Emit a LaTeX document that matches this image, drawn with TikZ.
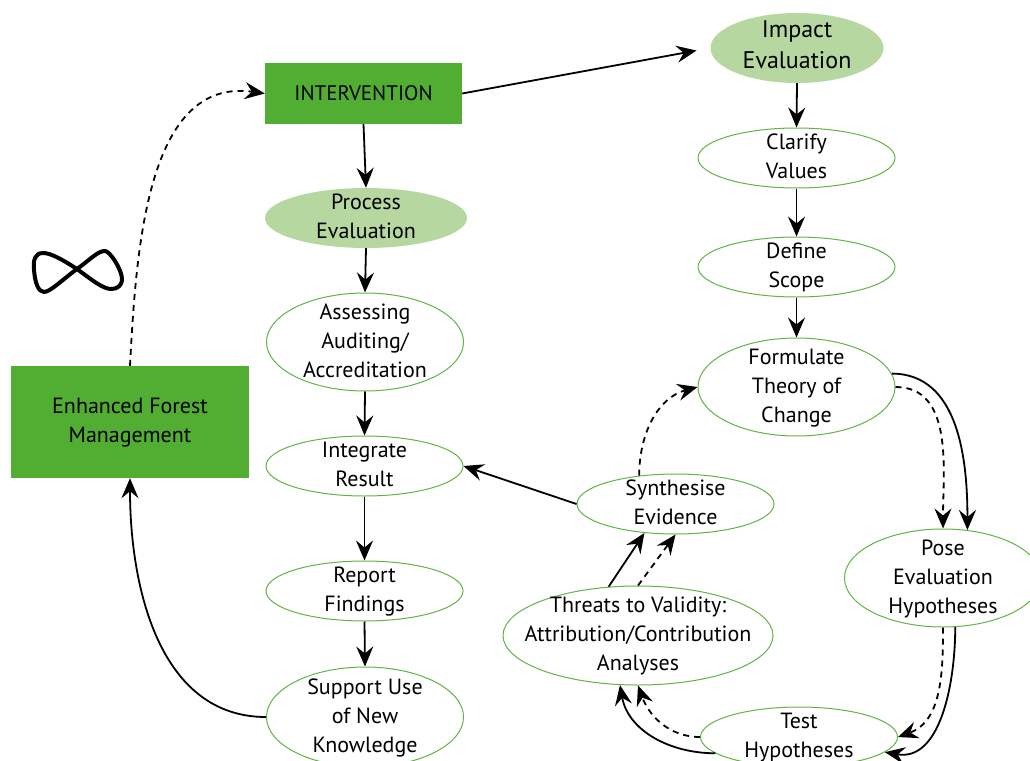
\documentclass[tikz,border=0pt]{standalone}
\usepackage{fontspec}
\setmainfont{PT Sans}
\usetikzlibrary{shapes.geometric,arrows.meta}
\newcommand{\lbl}[1]{\makebox[0pt]{\smash{\lower5.5pt\hbox{\begin{tabular}[c]{@{}c@{}}#1\end{tabular}}}}}

\begin{document}
\begin{tikzpicture}[x=1pt, y=-1pt,
    every node/.style={font=\fontsize{22}{29}\selectfont, text=black},
    stepnode/.style={ellipse, draw=stepgreen, line width=1pt, inner sep=0pt, minimum width=197pt, minimum height=60pt},
    evalnode/.style={ellipse, fill=palegreen, inner sep=0pt},
    actnode/.style={rectangle, fill=boxgreen, inner sep=0pt},
    link/.style={-{Stealth[length=20pt, width=17pt, inset=7pt]}, line width=1.8pt},
    dashlink/.style={link, dash pattern=on 6pt off 5pt}]
    \definecolor{stepgreen}{HTML}{62B246}
    \definecolor{palegreen}{HTML}{B7D7A0}
    \definecolor{boxgreen}{HTML}{52AE32}
    \useasboundingbox (0,0) rectangle (1030,760);

    \node [actnode, minimum width=197pt, minimum height=61pt] (intervention) at (363.5,93.5) {\fontsize{21}{29}\selectfont INTERVENTION};
    \node [actnode, minimum width=238pt, minimum height=112pt] (forest) at (130,422) {\lbl{Enhanced Forest\\Management}};

    \node [evalnode, minimum width=173pt, minimum height=70pt] (impact) at (797,48) {\fontsize{24}{31}\selectfont\lbl{Impact\\Evaluation}};
    \node [evalnode, minimum width=202pt, minimum height=60pt] (process) at (366,218) {\lbl{Process\\Evaluation}};

    \node [stepnode, minimum height=98pt] (assessing) at (365,342) {\lbl{Assessing\\Auditing/\\Accreditation}};
    \node [stepnode] (integrate) at (364.5,466) {\lbl{Integrate\\Result}};
    \node [stepnode] (report) at (364.5,591) {\lbl{Report\\Findings}};
    \node [stepnode, minimum height=100pt] (support) at (365,717) {\lbl{Support Use\\of New\\Knowledge}};

    \node [stepnode] (clarify) at (796.5,158) {\lbl{Clarify\\Values}};
    \node [stepnode] (scope) at (796.5,267) {\lbl{Define\\Scope}};
    \node [stepnode, minimum height=98pt] (theory) at (796.5,387) {\lbl{Formulate\\Theory of\\Change}};
    \node [stepnode, minimum height=98pt] (pose) at (943,578) {\lbl{Pose\\Evaluation\\Hypotheses}};
    \node [stepnode] (test) at (799,737) {\lbl{Test\\Hypotheses}};
    \node [stepnode, minimum width=270pt, minimum height=99pt] (threats) at (638,635.5) {\lbl{Threats to Validity:\\Attribution/Contribution\\Analyses}};
    \node [stepnode] (synthesise) at (675.5,504) {\lbl{Synthesise\\Evidence}};

    \draw [link, shorten >=14pt] (intervention.east) -- (impact.west);
    \draw [link] (impact.south) -- (clarify.north);
    \draw [link] (clarify.south) -- (scope.north);
    \draw [link] (scope.south) -- (theory.north);
    \draw [link] (intervention.south) -- (process.north);
    \draw [link] (process.south) -- (assessing.north);
    \draw [link] (assessing.south) -- (integrate.north);
    \draw [link] (integrate.south) -- (report.north);
    \draw [link] (report.south) -- (support.north);
    \draw [link] (support.west) to [out=180, in=-90] (forest.south);
    \draw [dashlink] (forest.north) to [out=87, in=172] (intervention.west);
    \draw [link] (synthesise.west) -- (integrate.east);
    \draw [dashlink] (synthesise.142) to [out=90, in=195] (theory.west);
    \draw [link] (theory.8) to [out=0, in=90] (pose.63);
    \draw [dashlink] (theory.east) to [out=0, in=90] (pose.north);
    \draw [link] (pose.-76) to [out=-90, in=-10] (test.-10);
    \draw [dashlink] (pose.south) to [out=-90, in=20] (test.east);
    \draw [link] (test.191) to [out=180, in=-80] (threats.250);
    \draw [dashlink] (test.west) to [out=180, in=-70] (threats.south);
    \draw [link] (threats.121) -- (synthesise.223);
    \draw [dashlink] (threats.north) -- (synthesise.south);

    \draw [line width=4pt, line join=round] (77,269) .. controls (60,258) and (50,253) .. (43,253)
      .. controls (35,253) and (33,260) .. (34,270) .. controls (35,282) and (38,292) .. (44,292)
      .. controls (50,292) and (62,280) .. (77,269) .. controls (92,258) and (98,251) .. (105,251)
      .. controls (110,251) and (122,270) .. (122,279) .. controls (122,286) and (117,289) .. (111,289)
      .. controls (103,289) and (92,280) .. (77,269) -- cycle;
  \end{tikzpicture}
\end{document}
